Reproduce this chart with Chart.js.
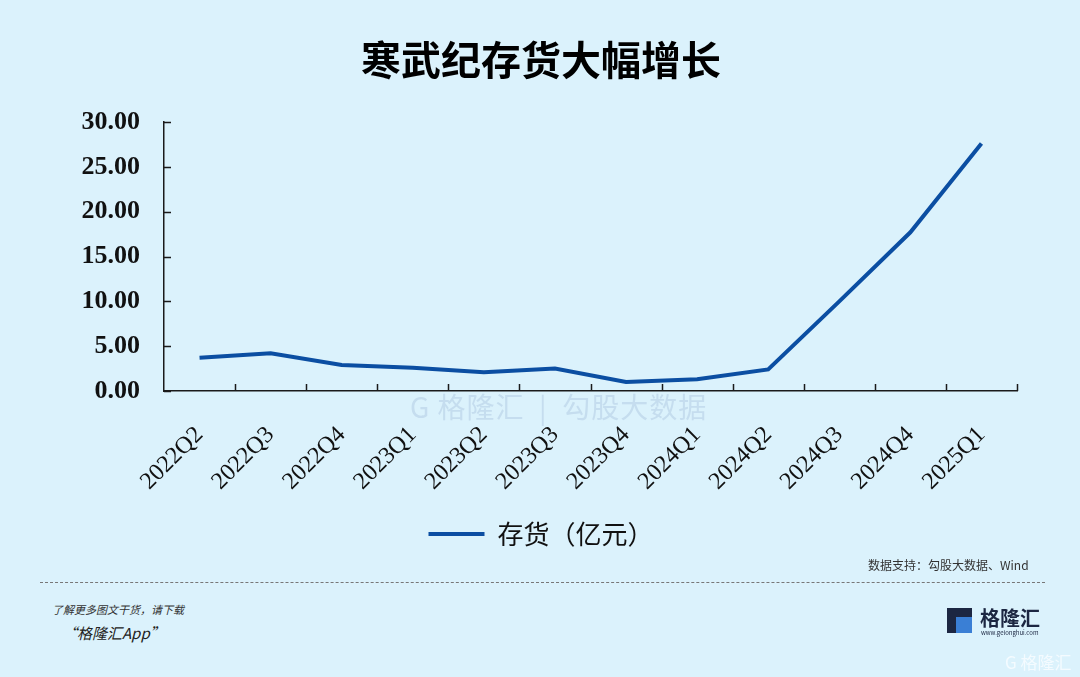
<!DOCTYPE html>
<html>
<head>
<meta charset="utf-8">
<script src="https://cdn.jsdelivr.net/npm/chart.js@4"></script>
<style>
  html, body { margin: 0; padding: 0; }
  body { width: 1080px; height: 677px; background: #dbf2fc; position: relative; overflow: hidden;
         font-family: "Noto Sans CJK SC", "Noto Sans", sans-serif; }
  #wrap { position: absolute; left: 0; top: 0; width: 1080px; height: 561px; }
  .abs { position: absolute; white-space: nowrap; }
  #src { left: 868px; top: 556px; font-size: 12px; color: #333; }
  #dash { left: 40px; top: 582px; width: 1005px; border-top: 1px dashed #777; }
  #more { left: 52px; top: 601px; font-size: 11px; color: #333; font-style: italic; }
  #app { left: 62px; top: 622px; font-size: 15px; color: #222; font-style: italic; }
  #logoG { left: 947px; top: 608px; width: 25px; height: 25px; background: #1c2742; }
  #logoG div { position: absolute; left: 9px; top: 9px; width: 16px; height: 16px; background: #3a7fd5; }
  #logoT { left: 980px; top: 603px; font-size: 20px; color: #1c2742; font-weight: bold; }
  #logoU { left: 981px; top: 628px; font-size: 6px; color: #1c2742; }
  #wm1 { left: 1005px; top: 649px; font-size: 17px; color: #f4fbff; }
  #wm2 { left: 410px; top: 386px; font-size: 28px; color: rgba(130,160,200,0.25); letter-spacing: 1px; }
</style>
</head>
<body>
<div id="wrap"><canvas id="c"></canvas></div>
<div class="abs" id="wm2">G 格隆汇 &nbsp;|&nbsp; 勾股大数据</div>
<div class="abs" id="src">数据支持：勾股大数据、Wind</div>
<div class="abs" id="dash"></div>
<div class="abs" id="more">了解更多图文干货，请下载</div>
<div class="abs" id="app">“格隆汇App”</div>
<div class="abs" id="logoG"><div></div></div>
<div class="abs" id="logoT">格隆汇</div>
<div class="abs" id="logoU">www.gelonghui.com</div>
<div class="abs" id="wm1">G 格隆汇</div>
<script>
var quarters = ["2022Q2", "2022Q3", "2022Q4", "2023Q1", "2023Q2", "2023Q3",
                "2023Q4", "2024Q1", "2024Q2", "2024Q3", "2024Q4", "2025Q1"];
var inventory = [3.7, 4.2, 2.9, 2.6, 2.1, 2.5, 1.0, 1.3, 2.4, 10.0, 17.7, 27.6];
var yTicks = [0, 5, 10, 15, 20, 25, 30];

var lineBlue = "#0b4ea2";
var axisColor = "#1a1a1a";

// ticks on this chart point inward, so draw them from the scales
var innerTicks = {
    id: "innerTicks",
    afterDraw: function(chart) {
        var ctx = chart.ctx;
        var x = chart.scales.x, y = chart.scales.y;
        var step = (x.right - x.left) / quarters.length;
        ctx.save();
        ctx.strokeStyle = axisColor;
        ctx.lineWidth = 1.5;
        ctx.beginPath();
        for (var i = 1; i <= quarters.length; i++) {
            var px = Math.round(x.left + i * step) + 0.5;
            ctx.moveTo(px, y.bottom);
            ctx.lineTo(px, y.bottom - 7);
        }
        yTicks.forEach(function(v) {
            var py = Math.round(y.getPixelForValue(v)) + 0.5;
            ctx.moveTo(x.left, py);
            ctx.lineTo(x.left + 7, py);
        });
        ctx.stroke();
        ctx.restore();
    }
};

var ctx = document.getElementById("c").getContext("2d");
var chart = new Chart(ctx, {
    type: "line",
    data: {
        labels: quarters,
        datasets: [{
            label: "存货（亿元）",
            data: inventory,
            borderColor: lineBlue,
            backgroundColor: lineBlue,
            borderWidth: 4,
            pointRadius: 0,
            tension: 0,
            fill: false
        }]
    },
    options: {
        responsive: true,
        maintainAspectRatio: false,
        animation: false,
        layout: { padding: { left: 65, right: 63, top: 0, bottom: 4 } },
        plugins: {
            title: {
                display: true,
                text: "寒武纪存货大幅增长",
                color: "#000",
                font: { family: "Noto Sans CJK SC", size: 40, weight: "bold" },
                padding: { top: 36, bottom: 38 }
            },
            legend: {
                position: "bottom",
                labels: {
                    usePointStyle: true,
                    pointStyle: "line",
                    pointStyleWidth: 56,
                    color: "#111",
                    font: { family: "Noto Sans CJK SC", size: 26 },
                    padding: 10
                }
            },
            tooltip: { enabled: false }
        },
        scales: {
            x: {
                offset: true,
                grid: { display: false, drawTicks: false },
                border: { display: true, color: axisColor, width: 1.5 },
                ticks: {
                    color: "#111",
                    font: { family: "Liberation Serif", size: 24 },
                    minRotation: 45,
                    maxRotation: 45,
                    padding: 30
                },
                afterFit: function(scale) { scale.height = 120; }
            },
            y: {
                min: 0,
                max: 30,
                grid: { display: false, drawTicks: false },
                border: { display: true, color: axisColor, width: 1.5 },
                afterBuildTicks: function(scale) {
                    scale.ticks = yTicks.map(function(v) { return { value: v }; });
                },
                ticks: {
                    color: "#111",
                    font: { family: "Liberation Serif", size: 26, weight: "bold" },
                    padding: 24,
                    callback: function(v) { return Number(v).toFixed(2); }
                },
                afterFit: function(scale) { scale.width = 99; }
            }
        }
    },
    plugins: [innerTicks]
});
</script>
</body>
</html>
